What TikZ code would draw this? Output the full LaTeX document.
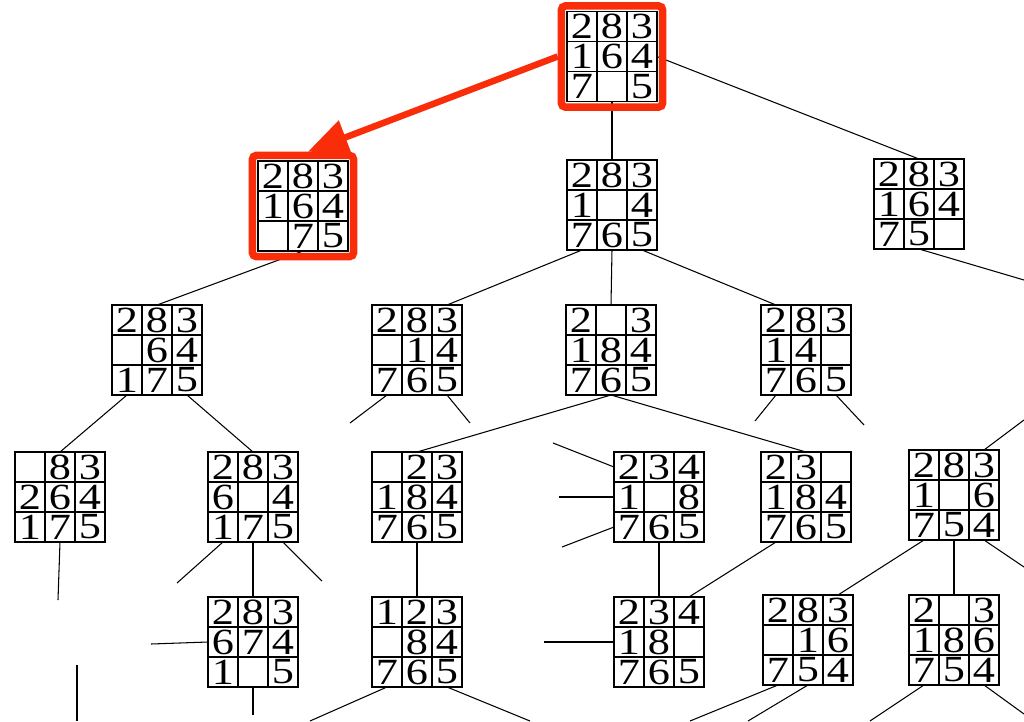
\documentclass[tikz,border=0pt]{standalone}
\usepackage{fontspec}
\usepackage{xcolor}
\usetikzlibrary{matrix, fit, arrows.meta}
\setmainfont{Liberation Serif}
\newfontfamily\boardfont[FakeStretch=1.2]{Liberation Serif}
\definecolor{hilite}{RGB}{250, 45, 10}

\begin{document}
\begin{tikzpicture}[
    x=0.02cm, y=-0.02cm,
    board/.style={
        matrix of nodes,
        nodes in empty cells,
        inner sep=0pt,
        outer sep=0pt,
        line width=0.7pt,
        column sep=-\pgflinewidth,
        row sep=-\pgflinewidth,
        nodes={cell}
    },
    cell/.style={
        draw,
        anchor=center,
        minimum size=0.6cm,
        inner sep=0pt,
        outer sep=0pt,
        font=\boardfont\fontsize{21}{21}\selectfont
    },
    branch/.style={line width=0.6pt},
    thickcol/.style={line width=1.6pt},
    redframe/.style={
        draw=hilite,
        line width=0.15cm,
        rounded corners=0.08cm,
        inner sep=0.1cm
    },
    redarrow/.style={
        draw=hilite,
        line width=0.13cm,
        -{Triangle[length=0.8cm, width=0.7cm]}
    }
]
\useasboundingbox[fill=white] (0,0) rectangle (1024,721);

% === Level 0 ===
\matrix[board] (n0) at (612,56.5) {2&8&3\\1&6&4\\7&&5\\};

% === Level 1 ===
\matrix[board] (n1a) at (303,206) {2&8&3\\1&6&4\\&7&5\\};
\matrix[board] (n1b) at (612,205) {2&8&3\\1&&4\\7&6&5\\};
\matrix[board] (n1c) at (919,204) {2&8&3\\1&6&4\\7&5&\\};

% === Level 2 ===
\matrix[board] (n2a) at (157,350) {2&8&3\\&6&4\\1&7&5\\};
\matrix[board] (n2b) at (417,350) {2&8&3\\&1&4\\7&6&5\\};
\matrix[board] (n2c) at (611,350) {2&&3\\1&8&4\\7&6&5\\};
\matrix[board] (n2d) at (806,350) {2&8&3\\1&4&\\7&6&5\\};

% === Level 3 ===
\matrix[board] (n3a) at (60,497) {&8&3\\2&6&4\\1&7&5\\};
\matrix[board] (n3b) at (253,497) {2&8&3\\6&&4\\1&7&5\\};
\matrix[board] (n3c) at (417,497) {&2&3\\1&8&4\\7&6&5\\};
\matrix[board] (n3d) at (659,497) {2&3&4\\1&&8\\7&6&5\\};
\matrix[board] (n3e) at (806,497) {2&3&\\1&8&4\\7&6&5\\};
\matrix[board] (n3f) at (954,495) {2&8&3\\1&&6\\7&5&4\\};

% === Level 4 ===
\matrix[board] (n4a) at (253,642) {2&8&3\\6&7&4\\1&&5\\};
\matrix[board] (n4b) at (417,642) {1&2&3\\&8&4\\7&6&5\\};
\matrix[board] (n4c) at (659,642) {2&3&4\\1&8&\\7&6&5\\};
\matrix[board] (n4d) at (808,640) {2&8&3\\&1&6\\7&5&4\\};
\matrix[board] (n4e) at (954,640) {2&&3\\1&8&6\\7&5&4\\};

% heavier column rules
\foreach \b in {n3f, n4e} {
    \draw[thickcol] (\b-1-2.north west) -- (\b-3-2.south west);
    \draw[thickcol] (\b-1-3.north west) -- (\b-3-3.south west);
}

% === Loose ends ===
\coordinate (c1) at (1024,280);
\coordinate (e1) at (350,423);
\coordinate (e2) at (470,423);
\coordinate (g1) at (755,421);
\coordinate (g2) at (864,425);
\coordinate (k1) at (553,443);
\coordinate (k2) at (559,497);
\coordinate (k3) at (562,547);
\coordinate (m0) at (1024,420);
\coordinate (m1) at (1024,567);
\coordinate (h1) at (58,600);
\coordinate (i1) at (177,583);
\coordinate (i2) at (322,581);
\coordinate (na) at (151,644);
\coordinate (nb) at (253,715);
\coordinate (la) at (77,665);
\coordinate (lb) at (77,721);
\coordinate (o1) at (310,721);
\coordinate (o2) at (530,721);
\coordinate (p1) at (544,642);
\coordinate (q1) at (690,721);
\coordinate (q2) at (748,721);
\coordinate (r1) at (870,721);
\coordinate (r2) at (1024,714);

% === Branches ===
\draw[branch] (n0-3-2.south) -- (n1b-1-2.north);
\draw[branch] (n0-2-3.east) -- (n1c-1-2.north);
\draw[branch] (n1a-3-2.south) -- (n2a-1-2.north);
\draw[branch] (n1b-3-1.south) -- (n2b-1-3.north);
\draw[branch] (n1b-3-2.south) -- (n2c-1-2.north);
\draw[branch] (n1b-3-3.south) -- (n2d-1-1.north);
\draw[branch] (n1c-3-2.south) -- (c1);
\draw[branch] (n2a-3-1.south) -- (n3a-1-2.north);
\draw[branch] (n2a-3-3.south) -- (n3b-1-2.north);
\draw[branch] (n2b-3-1.south) -- (e1);
\draw[branch] (n2b-3-3.south) -- (e2);
\draw[branch] (n2c-3-2.south) -- (n3c-1-2.north);
\draw[branch] (n2c-3-2.south) -- (n3e-1-2.north);
\draw[branch] (n2d-3-1.south) -- (g1);
\draw[branch] (n2d-3-3.south) -- (g2);
\draw[branch] (k1) -- (n3d-1-1.west);
\draw[branch] (k2) -- (n3d-2-1.west);
\draw[branch] (k3) -- (n3d-3-1.west);
\draw[branch] (m0) -- (n3f-1-3.north);
\draw[branch] (n3a-3-2.south) -- (h1);
\draw[branch] (n3b-3-1.south) -- (i1);
\draw[branch] (n3b-3-2.south) -- (n4a-1-2.north);
\draw[branch] (n3b-3-3.south) -- (i2);
\draw[branch] (n3c-3-2.south) -- (n4b-1-2.north);
\draw[branch] (n3d-3-2.south) -- (n4c-1-2.north);
\draw[branch] (n3e-3-1.south) -- (n4c-1-3.north);
\draw[branch] (n3f-3-1.south) -- (n4d-1-3.north);
\draw[branch] (n3f-3-2.south) -- (n4e-1-2.north);
\draw[branch] (n3f-3-3.south) -- (m1);
\draw[branch] (na) -- (n4a-2-1.west);
\draw[branch] (n4a-3-2.south) -- (nb);
\draw[branch] (la) -- (lb);
\draw[branch] (n4b-3-1.south) -- (o1);
\draw[branch] (n4b-3-3.south) -- (o2);
\draw[branch] (p1) -- (n4c-2-1.west);
\draw[branch] (n4d-3-1.south) -- (q1);
\draw[branch] (n4d-3-2.south) -- (q2);
\draw[branch] (n4e-3-1.south) -- (r1);
\draw[branch] (n4e-3-3.south) -- (r2);

% === Highlight ===
\node[redframe, fit=(n0)] (f0) {};
\node[redframe, fit=(n1a)] (f1) {};
\draw[redarrow] (f0.west) -- ([xshift=0.1cm]f1.north);

\end{tikzpicture}
\end{document}
